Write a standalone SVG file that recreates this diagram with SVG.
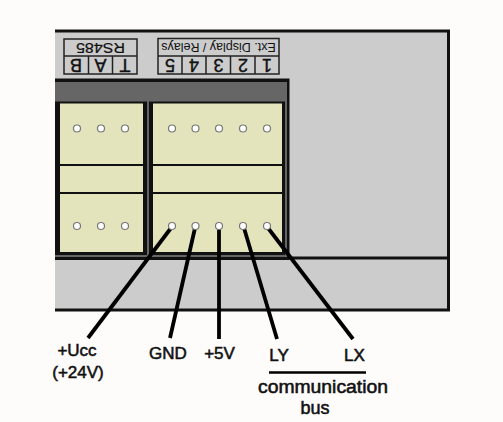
<svg xmlns="http://www.w3.org/2000/svg" width="503" height="422" viewBox="0 0 503 422">
<style>
text{font-family:"Liberation Sans",Arial,sans-serif;fill:#111;text-anchor:middle}
.lab{font-size:17px;stroke:#111;stroke-width:.55px}
.big{font-size:18px}
.cell{font-size:18px;stroke:#111;stroke-width:.4px}
.box{fill:#ccc;stroke:#222;stroke-width:1.5}
.div{stroke:#222;stroke-width:1.5;fill:none}
.cream{fill:#e4e4bc}
.sep{stroke:#111;stroke-width:2}
.wire{stroke:#000;stroke-width:3.800;fill:none}
.hole{fill:#fff;stroke:#777;stroke-width:1.200}
</style>
<rect width="503" height="422" fill="#fdfcfa"/>
<g id="panel">
<rect x="55" y="30" width="394" height="280" fill="#ccc"/>
<path d="M55 31H448.500V310H55M55 258H448.500" fill="none" stroke="#111" stroke-width="3"/>
</g>
<g id="label-rs485">
<rect class="box" x="64" y="39" width="73" height="35"/>
<path class="div" d="M64 56H137M88.500 56V74M112.500 56V74"/>
<text transform="rotate(180 100.500 47.500)" x="100.500" y="52.500" font-size="14" stroke="#111" stroke-width=".2" textLength="49" lengthAdjust="spacingAndGlyphs">RS485</text>
<text class="cell" transform="rotate(180 76 65)" x="76" y="71.500">B</text>
<text class="cell" transform="rotate(180 100.500 65)" x="100.500" y="71.500">A</text>
<text class="cell" transform="rotate(180 125 65)" x="125" y="71.500">T</text>
</g>
<g id="label-ext">
<rect class="box" x="158" y="38.500" width="121" height="35.500"/>
<path class="div" d="M158 56H279M182 56V74M206 56V74M230.500 56V74M255 56V74"/>
<text transform="rotate(180 218.500 47.500)" x="218.500" y="52" font-size="12.500">Ext. Display / Relays</text>
<text class="cell" transform="rotate(180 267 65)" x="267" y="71.500">1</text>
<text class="cell" transform="rotate(180 243 65)" x="243" y="71.500">2</text>
<text class="cell" transform="rotate(180 218.500 65)" x="218.500" y="71.500">3</text>
<text class="cell" transform="rotate(180 194 65)" x="194" y="71.500">4</text>
<text class="cell" transform="rotate(180 170 65)" x="170" y="71.500">5</text>
</g>
<g id="connector-block">
<rect x="55" y="78.500" width="234.500" height="181.500" fill="#111"/>
<rect x="55" y="82" width="232" height="19.500" fill="#666"/>
<rect x="285" y="101" width="2" height="156" fill="#666"/>
<rect x="147" y="101" width="2" height="156" fill="#666"/>
<rect x="55" y="255" width="232" height="2" fill="#666"/>
</g>
<g id="terminal-left">
<rect class="cream" x="60" y="103.500" width="83" height="148.500"/>
<path class="sep" d="M60 165H143M60 193H143"/>
<circle class="hole" cx="77" cy="128.500" r="3.500"/><circle class="hole" cx="101" cy="128.500" r="3.500"/><circle class="hole" cx="125" cy="128.500" r="3.500"/>
<circle class="hole" cx="77" cy="226" r="3.500"/><circle class="hole" cx="101" cy="226" r="3.500"/><circle class="hole" cx="125" cy="226" r="3.500"/>
</g>
<g id="terminal-right">
<rect class="cream" x="153" y="103.500" width="129" height="148.500"/>
<path class="sep" d="M153 165H282M153 193H282"/>
<circle class="hole" cx="172" cy="128.500" r="3.500"/><circle class="hole" cx="195.500" cy="128.500" r="3.500"/><circle class="hole" cx="219" cy="128.500" r="3.500"/><circle class="hole" cx="243" cy="128.500" r="3.500"/><circle class="hole" cx="267" cy="128.500" r="3.500"/>
</g>
<g id="connectors">
<path class="wire" d="M171 228L88 338"/>
<path class="wire" d="M195 228L170 338"/>
<path class="wire" d="M219 228V339"/>
<path class="wire" d="M244 228L277 339"/>
<path class="wire" d="M268 228L353 339"/>
<path d="M269 372.500H366" stroke="#000" stroke-width="2.500"/>
</g>
<g id="pins">
<circle class="hole" cx="172" cy="226" r="3.500"/><circle class="hole" cx="195.500" cy="226" r="3.500"/><circle class="hole" cx="219" cy="226" r="3.500"/><circle class="hole" cx="243" cy="226" r="3.500"/><circle class="hole" cx="267" cy="226" r="3.500"/>
</g>
<g id="labels">
<text class="lab" x="77" y="356">+Ucc</text>
<text class="lab" x="78" y="378">(+24V)</text>
<text class="lab" x="168" y="359">GND</text>
<text class="lab" x="219.500" y="359">+5V</text>
<text class="lab" x="279" y="361">LY</text>
<text class="lab" x="354.500" y="361">LX</text>
<text class="lab big" x="323" y="393" textLength="130" lengthAdjust="spacingAndGlyphs">communication</text>
<text class="lab big" x="315" y="414">bus</text>
</g>
</svg>
